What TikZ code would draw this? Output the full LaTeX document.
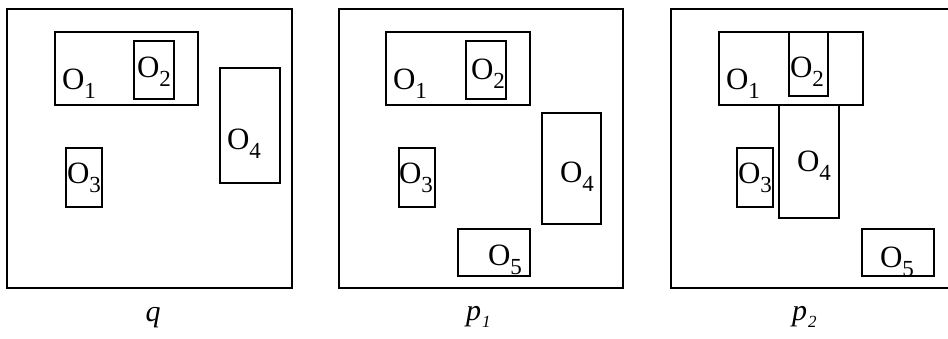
\documentclass[tikz,border=0pt]{standalone}
\usepackage{fontspec}
\setmainfont{Liberation Serif}
\usetikzlibrary{positioning}
\newcommand{\olab}[1]{{\fontsize{31}{31}\selectfont O}\raisebox{-9.5pt}{\fontsize{23}{23}\selectfont #1}}
\newcommand{\plab}[1]{{\fontsize{30}{30}\selectfont\itshape p}\kern1pt\raisebox{-7.5pt}{\fontsize{17}{17}\selectfont\itshape #1}}
\tikzset{
  frame/.style={draw=black, line width=1.6pt},
  obox/.style={draw=black, line width=1.3pt},
  olabel/.style={anchor=base west, inner sep=0pt, outer sep=0pt},
  caption/.style={anchor=base, inner sep=0pt, font=\fontsize{30}{30}\selectfont\itshape}
}
\begin{document}
\begin{tikzpicture}[x=1pt, y=-1pt, line join=miter]
  \useasboundingbox (0,0) rectangle (948,338);

  % panel frames
  \foreach \xa/\xb in {7/292, 339/623, 671/955} {
    \draw[frame] (\xa,9) rectangle (\xb,288);
  }

  % q
  \draw[obox] (55,32) rectangle (198,105);
  \draw[obox] (134,41) rectangle (174,99);
  \draw[obox] (220,68) rectangle (280,183);
  \draw[obox] (66,148) rectangle (102,207);
  \node[olabel] (q1) at (62,89) {\olab{1}};
  \node[olabel] (q2) at (137,77) {\olab{2}};
  \node[olabel] (q4) at (227,149) {\olab{4}};
  \node[olabel] (q3) at (67,183) {\olab{3}};
  \node[caption] (qcap) at (153,321) {q};

  % p1
  \draw[obox] (386,32) rectangle (530,105);
  \draw[obox] (466,41) rectangle (506,99);
  \draw[obox] (542,113) rectangle (601,224);
  \draw[obox] (399,148) rectangle (435,207);
  \draw[obox] (458,229) rectangle (530,276);
  \node[olabel] (a1) at (393,89) {\olab{1}};
  \node[olabel] (a2) at (471,79) {\olab{2}};
  \node[olabel] (a4) at (560,182) {\olab{4}};
  \node[olabel] (a3) at (399,183) {\olab{3}};
  \node[olabel] (a5) at (488,265) {\olab{5}};
  \node[olabel] (acap) at (466,320) {\plab{1}};

  % p2
  \draw[obox] (719,32) rectangle (863,105);
  \draw[obox] (789,32) rectangle (828,96);
  \draw[obox] (779,105) rectangle (839,218);
  \draw[obox] (737,148) rectangle (773,207);
  \draw[obox] (862,229) rectangle (934,276);
  \node[olabel] (b1) at (726,89) {\olab{1}};
  \node[olabel] (b2) at (790,77) {\olab{2}};
  \node[olabel] (b4) at (797,171) {\olab{4}};
  \node[olabel] (b3) at (738,183) {\olab{3}};
  \node[olabel] (b5) at (880,267) {\olab{5}};
  \node[olabel] (bcap) at (792,320) {\plab{2}};
\end{tikzpicture}
\end{document}
